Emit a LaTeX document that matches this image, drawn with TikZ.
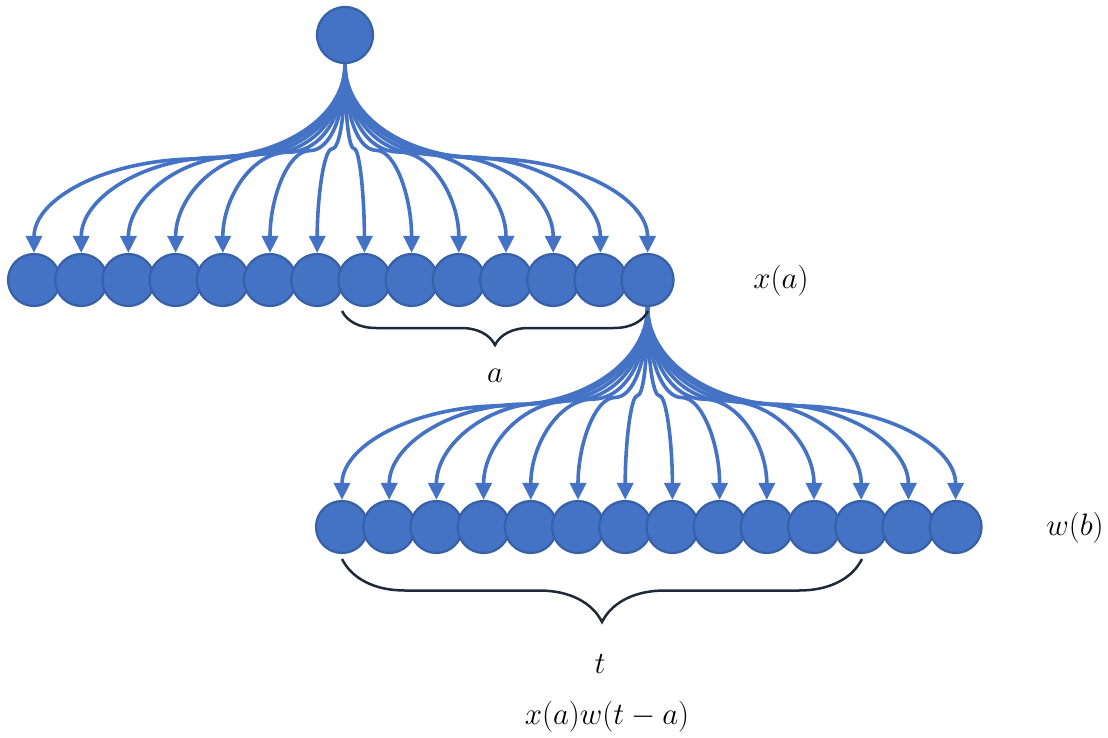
\documentclass[tikz,border=0pt]{standalone}
\usepackage{fix-cm}
\usetikzlibrary{arrows.meta,decorations.pathreplacing}
\definecolor{nodeblue}{HTML}{4472C4}
\definecolor{rimblue}{HTML}{3760A6}
\definecolor{bracegray}{HTML}{1F2A38}

\begin{document}
\begin{tikzpicture}
  [x=1pt,y=-1pt,
   cell/.style={circle,fill=nodeblue,draw=rimblue,line width=2.2pt,minimum size=52pt,inner sep=0pt},
   link/.style={draw=nodeblue,line width=3.6pt,line join=round,-{Triangle[width=16pt,length=17pt]}},
   curly/.style={draw=bracegray,line width=2.5pt,decorate,decoration={brace,mirror,amplitude=#1}},
   lbl/.style={font=\fontsize{31}{37}\selectfont}]
  \useasboundingbox (0,0) rectangle (1108,738);

  \node[cell,minimum size=56pt] (root) at (345,35) {};
  \foreach \i in {1,...,14}
    \node[cell] (x\i) at ({34+47.2*(\i-1)},280) {};
  \foreach \i in {1,...,14}
    \node[cell] (w\i) at ({342+47.2*(\i-1)},527) {};

  % fan from the top node to x(a)
  \foreach \i [evaluate=\i as \xt using {34+47.2*(\i-1)},
               evaluate=\i as \xw using {345+0.47*(34+47.2*(\i-1)-345)},
               evaluate=\i as \yw using {148+0.035*abs(34+47.2*(\i-1)-345)}] in {1,...,14}
    \draw[link] (root.south) .. controls +(0,55) and +({0.55*(345-\xw)},0) .. (\xw,\yw)
      .. controls +({0.55*(\xt-\xw)},0) and +(0,-55) .. (x\i.north);
  % fan from the last x(a) cell to w(b)
  \foreach \i [evaluate=\i as \xt using {342+47.2*(\i-1)},
               evaluate=\i as \xw using {648+0.47*(342+47.2*(\i-1)-648)},
               evaluate=\i as \yw using {395+0.035*abs(342+47.2*(\i-1)-648)}] in {1,...,14}
    \draw[link] (x14.south) .. controls +(0,55) and +({0.55*(648-\xw)},0) .. (\xw,\yw)
      .. controls +({0.55*(\xt-\xw)},0) and +(0,-55) .. (w\i.north);

  \draw[curly=34] (342,311) -- (648,311);
  \draw[curly=63] (342,559) -- (862,559);

  \node[lbl] (la) at (495,376) {$a$};
  \node[lbl] (lt) at (600,664) {$t$};
  \node[lbl] (lx) at (781,281) {$x(a)$};
  \node[lbl] (lw) at (1075,528) {$w(b)$};
  \node[lbl] (lp) at (607,717) {$x(a)w(t-a)$};
\end{tikzpicture}
\end{document}
